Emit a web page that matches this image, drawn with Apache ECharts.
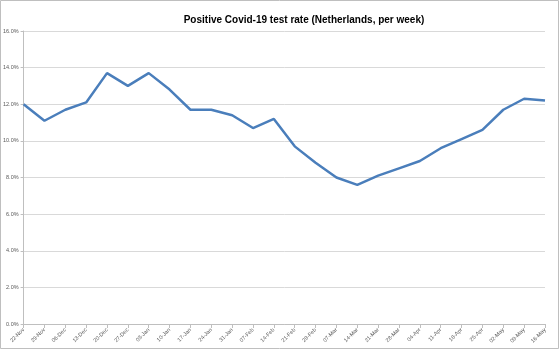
<!DOCTYPE html>
<html><head><meta charset="utf-8">
<script src="https://cdn.jsdelivr.net/npm/echarts@6/dist/echarts.min.js"></script>
<style>html,body{margin:0;padding:0;background:#fff}#c{width:560px;height:350px}</style>
</head><body><div id="c"></div>
<script>
const titleText = 'Positive Covid-19 test rate (Netherlands, per week)';
const categories = ['22-Nov','29-Nov','06-Dec','13-Dec','20-Dec','27-Dec','03-Jan','10-Jan','17-Jan','24-Jan','31-Jan','07-Feb','14-Feb','21-Feb','28-Feb','07-Mar','14-Mar','21-Mar','28-Mar','04-Apr','11-Apr','18-Apr','25-Apr','02-May','09-May','16-May'];
const positiveRate = [12.0,11.1,11.7,12.1,13.7,13.0,13.7,12.8,11.7,11.7,11.4,10.7,11.2,9.7,8.8,8.0,7.6,8.1,8.5,8.9,9.6,10.1,10.6,11.7,12.3,12.2];

const chart = echarts.init(document.getElementById('c'), null, {renderer:'canvas'});
chart.setOption({
  animation:false,
  backgroundColor:'#fff',
  title:{text:titleText,left:299,textAlign:'center',top:10,
    textStyle:{fontFamily:'Liberation Sans',fontWeight:'bold',fontSize:10,color:'#000'}},
  graphic:[{type:'rect',shape:{x:0.5,y:0.5,width:558,height:348},style:{fill:null,stroke:'#bfbfbf',lineWidth:1}}],
  grid:{left:22,right:15,top:31,bottom:26},
  xAxis:{type:'category',data:categories,boundaryGap:false,
    axisLine:{lineStyle:{color:'#bfbfbf'}},
    axisTick:{show:true,alignWithLabel:true,length:4,lineStyle:{color:'#bfbfbf'}},
    axisLabel:{rotate:45,fontSize:5.5,color:'#595959',fontFamily:'Liberation Sans',margin:5,interval:0},
    splitLine:{show:false}},
  yAxis:{type:'value',min:0,max:16,interval:2,
    axisLine:{show:true,lineStyle:{color:'#bfbfbf'}},
    axisTick:{show:true,length:3,lineStyle:{color:'#bfbfbf'}},
    axisLabel:{formatter:v=>v.toFixed(1)+'%',fontSize:5.5,color:'#595959',fontFamily:'Liberation Sans',margin:5},
    splitLine:{lineStyle:{color:'#d9d9d9',width:1}}},
  series:[{type:'line',data:positiveRate,symbol:'none',
    lineStyle:{color:'#4a7ebb',width:2.5}}]
});
</script></body></html>
